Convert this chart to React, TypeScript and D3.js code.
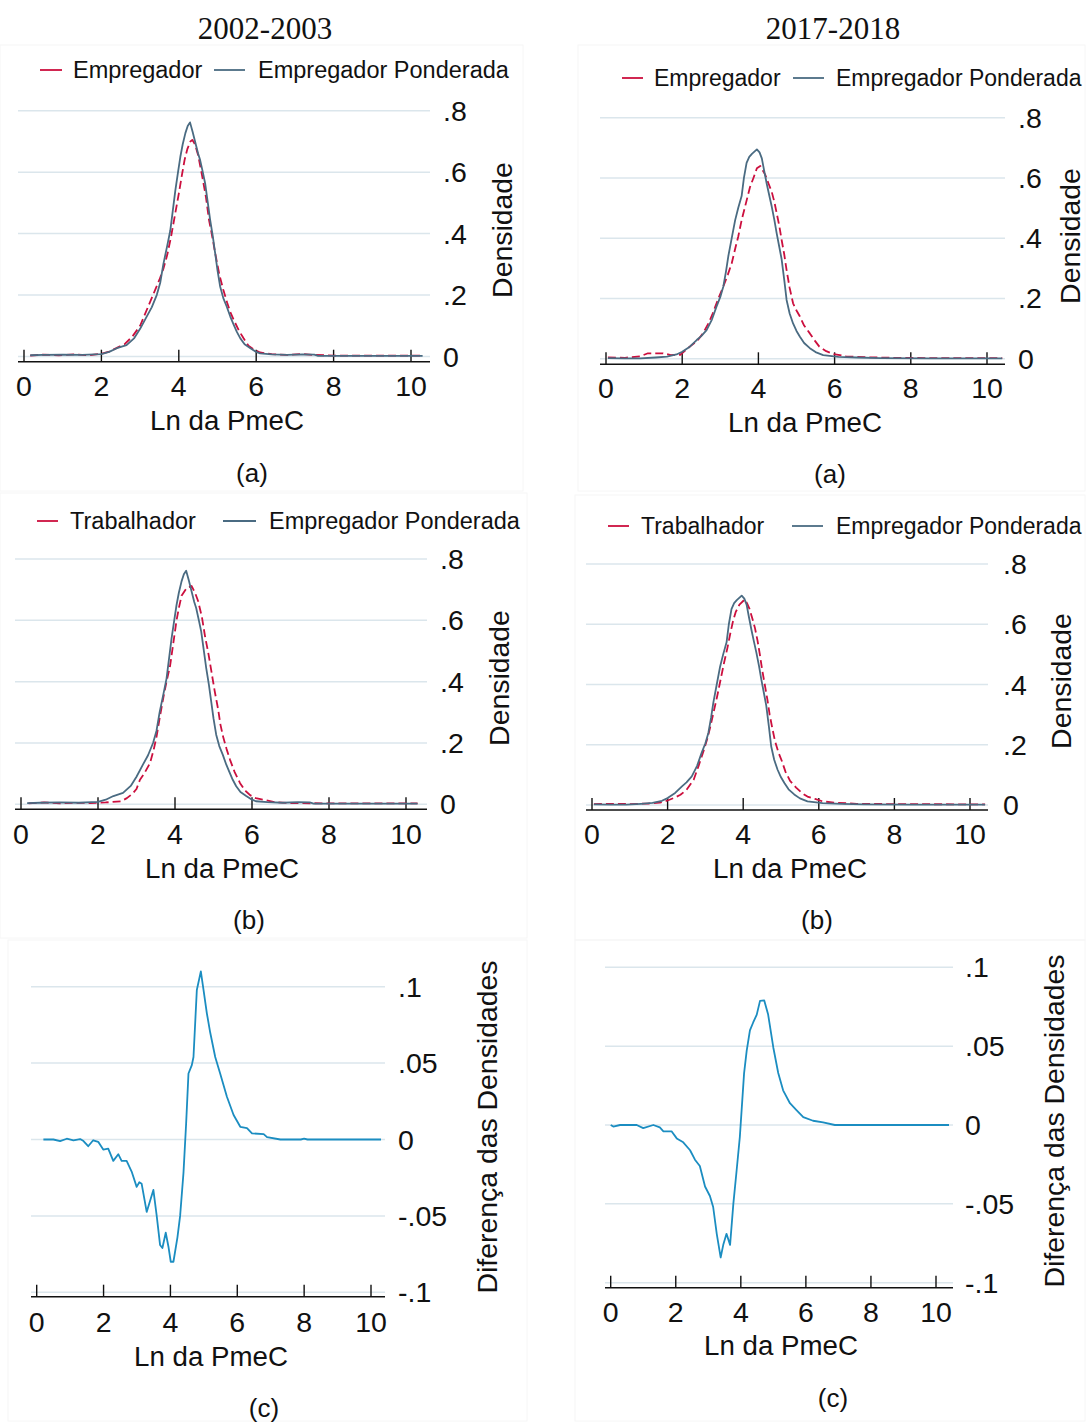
import React from "react";
import * as d3 from "d3";

type Pt = [number, number];

// ---------- labels ----------
const periods = ["2002-2003", "2017-2018"];
const subLabels = ["(a)", "(b)", "(c)"];
const legendA = ["Empregador", "Empregador Ponderada"];
const legendB = ["Trabalhador", "Empregador Ponderada"];
const xTitle = "Ln da PmeC";
const densTitle = "Densidade";
const diffTitle = "Diferença das Densidades";
const xTicks = [0, 2, 4, 6, 8, 10];
const densTicks = [0, 0.2, 0.4, 0.6, 0.8];
const densTickLabels = ["0", ".2", ".4", ".6", ".8"];
const diffTicks = [-0.1, -0.05, 0, 0.05, 0.1];
const diffTickLabels = ["-.1", "-.05", "0", ".05", ".1"];

// ---------- data: 2002-2003 ----------
const ponderada2002: Pt[] = [[0.16,0.004],[0.5,0.005],[1.0,0.006],[1.5,0.005],[2.0,0.008],[2.2,0.015],[2.4,0.027],[2.65,0.037],[2.85,0.06],[3.0,0.09],[3.17,0.13],[3.3,0.16],[3.43,0.2],[3.52,0.24],[3.6,0.3],[3.7,0.36],[3.78,0.41],[3.85,0.48],[3.91,0.54],[3.98,0.6],[4.04,0.65],[4.1,0.69],[4.17,0.727],[4.23,0.75],[4.29,0.762],[4.36,0.73],[4.42,0.70],[4.5,0.66],[4.55,0.64],[4.62,0.6],[4.68,0.564],[4.75,0.5],[4.81,0.445],[4.88,0.39],[4.94,0.336],[5.0,0.28],[5.07,0.227],[5.15,0.19],[5.24,0.162],[5.33,0.13],[5.42,0.103],[5.5,0.08],[5.59,0.059],[5.7,0.04],[5.85,0.027],[6.0,0.015],[6.1,0.01],[6.4,0.007],[6.8,0.005],[7.2,0.007],[7.5,0.006],[7.6,0.002],[8.5,0.002],[9.5,0.002],[10.3,0.002]];
const empregador2002: Pt[] = [[0.16,0.003],[0.5,0.006],[0.9,0.004],[1.3,0.007],[1.7,0.004],[2.0,0.009],[2.2,0.016],[2.4,0.028],[2.6,0.04],[2.8,0.065],[3.0,0.1],[3.2,0.16],[3.4,0.22],[3.5,0.25],[3.6,0.285],[3.7,0.33],[3.8,0.39],[3.9,0.46],[4.0,0.53],[4.08,0.59],[4.15,0.64],[4.22,0.675],[4.3,0.7],[4.35,0.705],[4.42,0.69],[4.5,0.655],[4.6,0.59],[4.7,0.52],[4.78,0.445],[4.85,0.4],[4.95,0.33],[5.05,0.265],[5.15,0.217],[5.25,0.175],[5.33,0.145],[5.42,0.119],[5.55,0.085],[5.67,0.06],[5.8,0.035],[5.95,0.022],[6.1,0.013],[6.4,0.008],[6.8,0.005],[7.2,0.008],[7.5,0.005],[8.0,0.003],[9.0,0.003],[10.3,0.003]];
const trabalhador2002: Pt[] = [[0.2,0.003],[0.6,0.006],[1.0,0.003],[1.4,0.005],[1.8,0.004],[2.2,0.006],[2.6,0.01],[2.75,0.02],[2.9,0.035],[3.0,0.05],[3.09,0.08],[3.2,0.1],[3.35,0.134],[3.45,0.18],[3.52,0.22],[3.6,0.28],[3.7,0.35],[3.78,0.4],[3.87,0.45],[3.95,0.52],[4.04,0.6],[4.1,0.64],[4.17,0.68],[4.3,0.705],[4.43,0.712],[4.52,0.69],[4.6,0.663],[4.7,0.61],[4.78,0.548],[4.87,0.49],[4.95,0.43],[5.03,0.37],[5.12,0.31],[5.18,0.26],[5.25,0.22],[5.34,0.18],[5.43,0.145],[5.55,0.105],[5.69,0.069],[5.82,0.045],[5.95,0.03],[6.1,0.02],[6.3,0.015],[6.6,0.007],[7.0,0.004],[8.0,0.003],[9.0,0.003],[10.3,0.003]];
const diff2002: Pt[] = [[0.2,0],[0.5,0],[0.7,-0.001],[0.9,0.0005],[1.1,-0.0005],[1.3,0.0003],[1.4,-0.001],[1.54,-0.0044],[1.69,-0.0005],[1.84,-0.0015],[1.99,-0.0066],[2.14,-0.006],[2.29,-0.014],[2.44,-0.0096],[2.54,-0.014],[2.69,-0.014],[2.84,-0.021],[2.99,-0.031],[3.07,-0.028],[3.14,-0.029],[3.29,-0.0474],[3.49,-0.033],[3.59,-0.05],[3.69,-0.069],[3.76,-0.071],[3.86,-0.061],[3.94,-0.07],[4.01,-0.08],[4.09,-0.08],[4.21,-0.064],[4.29,-0.05],[4.39,-0.022],[4.47,0.0105],[4.54,0.0432],[4.64,0.0487],[4.69,0.054],[4.79,0.0978],[4.91,0.11],[4.99,0.098],[5.09,0.0826],[5.19,0.07],[5.34,0.054],[5.49,0.043],[5.69,0.028],[5.89,0.016],[6.09,0.0083],[6.29,0.0075],[6.44,0.004],[6.79,0.0035],[6.89,0.0015],[7.29,0],[7.9,0],[8.0,0.0005],[8.1,0],[10.3,0]];

// ---------- data: 2017-2018 ----------
const ponderada2017: Pt[] = [[0.05,0.002],[0.5,0.001],[0.9,0.001],[1.3,0.004],[1.6,0.007],[1.85,0.014],[2.0,0.023],[2.2,0.04],[2.38,0.062],[2.5,0.075],[2.64,0.095],[2.78,0.13],[2.9,0.173],[3.0,0.205],[3.08,0.24],[3.15,0.29],[3.21,0.34],[3.3,0.4],[3.39,0.46],[3.47,0.5],[3.56,0.54],[3.62,0.6],[3.69,0.65],[3.76,0.67],[3.83,0.68],[3.96,0.695],[4.03,0.685],[4.09,0.665],[4.15,0.625],[4.22,0.58],[4.28,0.545],[4.35,0.505],[4.42,0.46],[4.48,0.416],[4.55,0.37],[4.61,0.33],[4.68,0.26],[4.74,0.195],[4.82,0.15],[4.91,0.117],[5.0,0.092],[5.09,0.073],[5.2,0.052],[5.35,0.035],[5.5,0.022],[5.7,0.012],[6.1,0.006],[6.6,0.004],[7.2,0.002],[8.5,0.001],[10.4,0.001]];
const empregador2017: Pt[] = [[0.05,0.004],[0.5,0.003],[0.9,0.008],[1.1,0.018],[1.5,0.018],[1.7,0.012],[1.95,0.013],[2.2,0.04],[2.4,0.06],[2.55,0.085],[2.7,0.12],[2.8,0.15],[2.95,0.2],[3.08,0.24],[3.2,0.28],[3.3,0.317],[3.4,0.37],[3.47,0.405],[3.56,0.46],[3.65,0.505],[3.72,0.54],[3.78,0.57],[3.87,0.6],[3.96,0.632],[4.05,0.64],[4.18,0.61],[4.27,0.58],[4.35,0.554],[4.42,0.52],[4.48,0.483],[4.55,0.44],[4.61,0.394],[4.68,0.345],[4.74,0.294],[4.82,0.235],[4.91,0.184],[5.0,0.16],[5.09,0.14],[5.2,0.11],[5.35,0.084],[5.48,0.06],[5.6,0.04],[5.78,0.025],[5.95,0.016],[6.3,0.008],[6.8,0.005],[7.5,0.003],[8.5,0.002],[10.4,0.002]];
const trabalhador2017: Pt[] = [[0.05,0.003],[0.6,0.004],[1.0,0.003],[1.5,0.005],[1.8,0.008],[2.0,0.015],[2.2,0.025],[2.34,0.034],[2.5,0.05],[2.69,0.084],[2.82,0.13],[2.96,0.183],[3.05,0.22],[3.13,0.26],[3.22,0.31],[3.31,0.36],[3.4,0.415],[3.49,0.47],[3.58,0.52],[3.66,0.57],[3.73,0.61],[3.8,0.64],[3.9,0.665],[4.04,0.682],[4.1,0.67],[4.17,0.65],[4.24,0.62],[4.31,0.588],[4.38,0.545],[4.44,0.5],[4.5,0.45],[4.57,0.4],[4.64,0.35],[4.7,0.3],[4.77,0.255],[4.84,0.213],[4.93,0.175],[5.02,0.147],[5.12,0.11],[5.24,0.08],[5.4,0.058],[5.55,0.04],[5.7,0.028],[5.9,0.02],[6.1,0.012],[6.4,0.008],[7.0,0.004],[8.0,0.003],[10.4,0.002]];
const diff2017: Pt[] = [[0,0],[0.08,-0.001],[0.29,0],[0.8,0],[1.0,-0.002],[1.31,0],[1.51,-0.0015],[1.62,-0.004],[1.87,-0.004],[2.03,-0.0085],[2.23,-0.011],[2.44,-0.016],[2.59,-0.022],[2.74,-0.026],[2.9,-0.039],[3.05,-0.045],[3.15,-0.052],[3.26,-0.069],[3.38,-0.084],[3.46,-0.076],[3.56,-0.069],[3.67,-0.076],[3.77,-0.05],[3.87,-0.029],[3.97,-0.0075],[4.1,0.0327],[4.18,0.047],[4.28,0.06],[4.38,0.065],[4.49,0.07],[4.59,0.0787],[4.72,0.079],[4.84,0.07],[5.0,0.049],[5.15,0.033],[5.3,0.022],[5.51,0.0138],[5.71,0.0095],[5.92,0.005],[6.22,0.0027],[6.53,0.0016],[6.89,0],[10.4,0]];

// ---------- style ----------
const RED = "#cc0f3e";
const BLUE = "#4a6b82";
const DIFF = "#1b8dc1";
const GRID = "#dbe6ec";
const SANS = "'Liberation Sans', Arial, sans-serif";
const SERIF = "'Liberation Serif', 'Times New Roman', serif";

type Layout = {
  x0: number; x10: number; yDom: [number, number]; yRng: [number, number];
  gx1: number; gx2: number; axisY: number; tickLabY: number; yLabX: number;
  yTitleX: number; yTitleY: number; xTitleX: number; xTitleY: number;
  subX: number; subY: number; box: [number, number, number, number];
  legY?: number; legFont?: number; leg?: [number, number, number, number, number, number];
};

type LineSpec = { data: Pt[]; color: string; dashed?: boolean };

function Panel({ L, lines, ticks, tickLabels, yTitle, sub, legend }:
  { L: Layout; lines: LineSpec[]; ticks: number[]; tickLabels: string[]; yTitle: string; sub: string; legend?: string[] }) {
  const x = d3.scaleLinear().domain([0, 10]).range([L.x0, L.x10]);
  const y = d3.scaleLinear().domain(L.yDom).range(L.yRng);
  const line = d3.line<Pt>().x(d => x(d[0])).y(d => y(d[1]));
  const lf = L.legFont || 23.5;
  return (
    <g>
      <rect x={L.box[0]} y={L.box[1]} width={L.box[2]} height={L.box[3]} fill="none" stroke="#f6f6f6" strokeWidth={1} />
      {ticks.map((t, i) => (
        <g key={"g" + i}>
          <line x1={L.gx1} x2={L.gx2} y1={y(t)} y2={y(t)} stroke={GRID} strokeWidth={1.5} />
          <text x={L.yLabX} y={y(t)} dominantBaseline="central" fontFamily={SANS} fontSize={28.5} fill="#111">{tickLabels[i]}</text>
        </g>
      ))}
      <line x1={L.gx1} x2={L.gx2} y1={L.axisY} y2={L.axisY} stroke="#111" strokeWidth={1.6} />
      {xTicks.map(t => (
        <g key={"x" + t}>
          <line x1={x(t)} x2={x(t)} y1={L.axisY} y2={L.axisY - 12} stroke="#111" strokeWidth={1.4} />
          <text x={x(t)} y={L.tickLabY} textAnchor="middle" dominantBaseline="central" fontFamily={SANS} fontSize={28.5} fill="#111">{t}</text>
        </g>
      ))}
      {lines.map((l, i) => (
        <path key={"l" + i} d={line(l.data) || ""} fill="none" stroke={l.color} strokeWidth={1.8}
          strokeDasharray={l.dashed ? "8,4" : undefined} strokeLinejoin="round" />
      ))}
      <text x={L.xTitleX} y={L.xTitleY} textAnchor="middle" dominantBaseline="central" fontFamily={SANS} fontSize={27.7} fill="#111">{xTitle}</text>
      <text transform={`translate(${L.yTitleX},${L.yTitleY}) rotate(-90)`} textAnchor="middle" dominantBaseline="central" fontFamily={SANS} fontSize={28.4} fill="#111">{yTitle}</text>
      <text x={L.subX} y={L.subY} textAnchor="middle" dominantBaseline="central" fontFamily={SANS} fontSize={26} fill="#111">{sub}</text>
      {legend && L.leg && L.legY !== undefined && (
        <g>
          <line x1={L.leg[0]} x2={L.leg[1]} y1={L.legY} y2={L.legY} stroke={RED} strokeWidth={1.8} />
          <text x={L.leg[2]} y={L.legY} dominantBaseline="central" fontFamily={SANS} fontSize={lf} fill="#111">{legend[0]}</text>
          <line x1={L.leg[3]} x2={L.leg[4]} y1={L.legY} y2={L.legY} stroke={BLUE} strokeWidth={1.8} />
          <text x={L.leg[5]} y={L.legY} dominantBaseline="central" fontFamily={SANS} fontSize={lf} fill="#111">{legend[1]}</text>
        </g>
      )}
    </g>
  );
}

const layoutTL: Layout = { x0: 24, x10: 411, yDom: [0, 0.8], yRng: [356.5, 110.7], gx1: 18, gx2: 430, axisY: 361.7, tickLabY: 386, yLabX: 443, yTitleX: 502, yTitleY: 230, xTitleX: 227, xTitleY: 420, subX: 252, subY: 473, box: [0, 45, 523, 446], legY: 70, leg: [40, 62, 73, 214, 245, 258] };
const layoutTR: Layout = { x0: 606, x10: 987, yDom: [0, 0.8], yRng: [358.7, 117.7], gx1: 600, gx2: 1005, axisY: 364.3, tickLabY: 388, yLabX: 1018, yTitleX: 1070, yTitleY: 236, xTitleX: 805, xTitleY: 422, subX: 830, subY: 474, box: [578, 45, 507, 446], legY: 78, legFont: 23, leg: [622, 643, 654, 793, 824, 836] };
const layoutML: Layout = { x0: 21, x10: 406, yDom: [0, 0.8], yRng: [804.3, 559], gx1: 15, gx2: 427, axisY: 809.3, tickLabY: 834, yLabX: 440, yTitleX: 499, yTitleY: 678, xTitleX: 222, xTitleY: 868, subX: 249, subY: 920, box: [0, 493, 527, 445], legY: 521, leg: [37, 58, 70, 223, 256, 269] };
const layoutMR: Layout = { x0: 592, x10: 970, yDom: [0, 0.8], yRng: [805, 564], gx1: 586, gx2: 988, axisY: 810, tickLabY: 834, yLabX: 1003, yTitleX: 1061, yTitleY: 681, xTitleX: 790, xTitleY: 868, subX: 817, subY: 920, box: [575, 495, 510, 445], legY: 526, legFont: 23, leg: [608, 629, 641, 792, 823, 836] };
const layoutBL: Layout = { x0: 36.7, x10: 371, yDom: [-0.1, 0.1], yRng: [1292.3, 986.7], gx1: 31, gx2: 385, axisY: 1296.7, tickLabY: 1322, yLabX: 398, yTitleX: 487, yTitleY: 1127, xTitleX: 211, xTitleY: 1356, subX: 264, subY: 1408, box: [8, 940, 519, 481] };
const layoutBR: Layout = { x0: 610.7, x10: 936, yDom: [-0.1, 0.1], yRng: [1282.7, 967.3], gx1: 605, gx2: 953, axisY: 1287.7, tickLabY: 1312, yLabX: 965, yTitleX: 1054, yTitleY: 1121, xTitleX: 781, xTitleY: 1345, subX: 833, subY: 1398, box: [575, 940, 510, 481] };

export default function App() {
  return (
    <div style={{ position: "absolute", left: 0, top: 0, background: "#fff" }}>
      <svg width={1086} height={1422} viewBox="0 0 1086 1422" style={{ display: "block" }}>
        <rect x={0} y={0} width={1086} height={1422} fill="#fff" />
        <text x={265} y={28} textAnchor="middle" dominantBaseline="central" fontFamily={SERIF} fontSize={31} fill="#111">{periods[0]}</text>
        <text x={833} y={28} textAnchor="middle" dominantBaseline="central" fontFamily={SERIF} fontSize={31} fill="#111">{periods[1]}</text>
        <Panel L={layoutTL} ticks={densTicks} tickLabels={densTickLabels} yTitle={densTitle} sub={subLabels[0]} legend={legendA}
          lines={[{ data: empregador2002, color: RED, dashed: true }, { data: ponderada2002, color: BLUE }]} />
        <Panel L={layoutTR} ticks={densTicks} tickLabels={densTickLabels} yTitle={densTitle} sub={subLabels[0]} legend={legendA}
          lines={[{ data: empregador2017, color: RED, dashed: true }, { data: ponderada2017, color: BLUE }]} />
        <Panel L={layoutML} ticks={densTicks} tickLabels={densTickLabels} yTitle={densTitle} sub={subLabels[1]} legend={legendB}
          lines={[{ data: trabalhador2002, color: RED, dashed: true }, { data: ponderada2002, color: BLUE }]} />
        <Panel L={layoutMR} ticks={densTicks} tickLabels={densTickLabels} yTitle={densTitle} sub={subLabels[1]} legend={legendB}
          lines={[{ data: trabalhador2017, color: RED, dashed: true }, { data: ponderada2017, color: BLUE }]} />
        <Panel L={layoutBL} ticks={diffTicks} tickLabels={diffTickLabels} yTitle={diffTitle} sub={subLabels[2]}
          lines={[{ data: diff2002, color: DIFF }]} />
        <Panel L={layoutBR} ticks={diffTicks} tickLabels={diffTickLabels} yTitle={diffTitle} sub={subLabels[2]}
          lines={[{ data: diff2017, color: DIFF }]} />
      </svg>
    </div>
  );
}
